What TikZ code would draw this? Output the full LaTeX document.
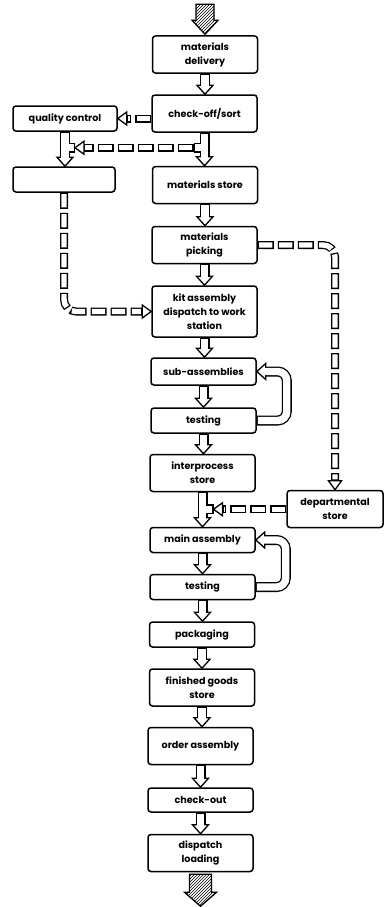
\documentclass[tikz,border=0pt]{standalone}
\usepackage{fontspec}
\setmainfont{Poppins}
\usetikzlibrary{calc,patterns}
\tikzset{
stage/.style={draw,line width=1.5pt,rounded corners=3pt,minimum width=105pt,inner sep=1pt,align=center,font=\bfseries\fontsize{9.6}{14}\selectfont},
one/.style={minimum height=25pt},
two/.style={minimum height=37pt},
three/.style={minimum height=51pt},
pipe/.style={line width=10pt,rounded corners=9pt},
pipein/.style={line width=7.4pt,white,rounded corners=9pt},
duct/.style={line width=8pt,dash pattern=on 16pt off 4pt,rounded corners=12pt},
ductin/.style={line width=5.4pt,white,dash pattern=on 13.4pt off 6.6pt,dash phase=18.7pt,rounded corners=12pt},
hatched/.style={draw,line width=1.3pt,pattern=north east lines,line join=miter},
bighead/.pic={\draw[fill=white,line width=1.3pt,line join=miter] (0,0) -- (-9pt,8pt) -- (-9pt,-8pt) -- cycle;},
smallhead/.pic={\draw[fill=white,line width=1.3pt,line join=miter] (0,0) -- (-9pt,6.5pt) -- (-9pt,-6.5pt) -- cycle;}
}
\newcommand{\flow}[3]{%
\draw[pipe,shorten >=9pt] #1;
\pic[rotate=#3] at #2 {bighead};
\draw[pipein,shorten >=7.5pt,shorten <=1pt] #1;}
\newcommand{\downflow}[2]{\flow{(#1.south) -- (#1.south |- #2.north)}{(#1.south |- #2.north)}{-90}}
\newcommand{\ductflow}[3]{%
\draw[duct,shorten >=9pt] #1;
\draw[ductin,shorten >=10.3pt] #1;
\pic[rotate=#3] at #2 {smallhead};}

\begin{document}
\begin{tikzpicture}[x=1pt,y=1pt]
\useasboundingbox (0,0) rectangle (384,-907);
\node[stage,two] (deliv) at (205,-54.5) {materials\\delivery};
\node[stage,two] (check) at (204.5,-113.5) {check-off/sort};
\node[stage,one,minimum width=104pt] (qc) at (65,-118.5) {quality control};
\node[stage,one,minimum width=102pt] (blank) at (64,-179.5) {};
\node[stage,two] (mstore) at (205,-185) {materials store};
\node[stage,two] (pick) at (204.5,-245) {materials\\picking};
\node[stage,three] (kit) at (204.5,-311.5) {kit assembly\\dispatch to work\\station};
\node[stage,minimum height=27pt] (suba) at (203.5,-371.5) {sub-assemblies};
\node[stage,one] (testa) at (203.5,-420.5) {testing};
\node[stage,two] (inter) at (202.5,-473) {interprocess\\store};
\node[stage,two,minimum width=96pt] (dept) at (335,-509) {departmental\\store};
\node[stage,one] (main) at (202.5,-540) {main assembly};
\node[stage,one] (testb) at (202.5,-587) {testing};
\node[stage,one] (pack) at (202,-634.5) {packaging};
\node[stage,two] (fin) at (202,-687.5) {finished goods\\store};
\node[stage,two] (order) at (200.5,-746) {order assembly};
\node[stage,minimum height=24pt] (out) at (200.5,-800) {check-out};
\node[stage,two] (disp) at (200.5,-853) {dispatch\\loading};

% in and out
\draw[hatched] ([yshift=1pt]deliv.north) -- ++(-13pt,14pt) -- ++(4pt,0) -- ++(0,16pt) -- ++(18pt,0) -- ++(0,-16pt) -- ++(4pt,0) -- cycle;
\draw[hatched] ([xshift=-11pt,yshift=-2pt]disp.south) -- ++(0,-18pt) -- ++(-5pt,0) -- ++(16pt,-14pt) -- ++(16pt,14pt) -- ++(-5pt,0) -- ++(0,18pt) -- cycle;

\downflow{deliv}{check}
\downflow{mstore}{pick}
\downflow{pick}{kit}
\downflow{kit}{suba}
\downflow{suba}{testa}
\downflow{testa}{inter}
\downflow{main}{testb}
\downflow{testb}{pack}
\downflow{pack}{fin}
\downflow{fin}{order}
\downflow{order}{out}
\downflow{out}{disp}

% branches after check-off/sort
\coordinate (jc) at ([yshift=-15pt]check.south);
\coordinate (jq) at (qc.south |- jc);
\draw[pipe,shorten >=9pt] (check.south) -- (check.south |- mstore.north);
\draw[pipe] (jc) -- ++(-11pt,0);
\draw[pipe,shorten >=9pt] (qc.south) -- (qc.south |- blank.north);
\draw[pipe] (jq) -- ++(10pt,0);
\pic[rotate=-90] at (check.south |- mstore.north) {bighead};
\pic[rotate=-90] at (qc.south |- blank.north) {bighead};
\draw[pipein,shorten >=7.5pt,shorten <=1pt] (check.south) -- (check.south |- mstore.north);
\draw[pipein] (jc) -- ++(-9.7pt,0);
\draw[pipein,shorten >=7.5pt,shorten <=1pt] (qc.south) -- (qc.south |- blank.north);
\draw[pipein] (jq) -- ++(8.7pt,0);
\ductflow{([xshift=-11pt]jc) -- ([xshift=10pt]jq)}{([xshift=10pt]jq)}{180}

% interprocess store to main assembly
\coordinate (ji) at ([yshift=-17pt]inter.south);
\draw[pipe,shorten >=9pt] (inter.south) -- (inter.south |- main.north);
\draw[pipe] (ji) -- ++(11pt,0);
\pic[rotate=-90] at (inter.south |- main.north) {bighead};
\draw[pipein,shorten >=7.5pt,shorten <=1pt] (inter.south) -- (inter.south |- main.north);
\draw[pipein] (ji) -- ++(9.7pt,0);
\ductflow{(dept.west |- ji) -- ([xshift=11pt]ji)}{([xshift=11pt]ji)}{180}

% test loops
\flow{(testa.east) -| ([xshift=30pt]suba.east) -- (suba.east)}{(suba.east)}{180}
\flow{(testb.east) -| ([xshift=30pt]main.east) -- (main.east)}{(main.east)}{180}

% dashed links
\ductflow{(check.west |- qc.east) -- (qc.east)}{(qc.east)}{180}
\ductflow{(blank.south) |- (kit.west)}{(kit.west)}{0}
\ductflow{(pick.east) -| (dept.north)}{(dept.north)}{-90}
\end{tikzpicture}
\end{document}
